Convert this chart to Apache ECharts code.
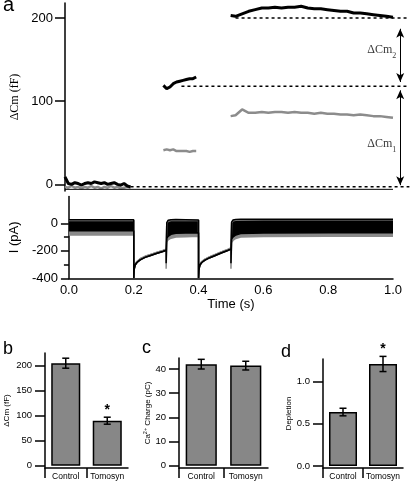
<!DOCTYPE html>
<html>
<head>
<meta charset="utf-8">
<script src="https://cdn.jsdelivr.net/npm/echarts@6/dist/echarts.min.js"></script>
<style>html,body{margin:0;padding:0;background:#fff}#c{width:410px;height:485px}</style>
</head>
<body>
<div id="c"></div>
<script>
// ---------- panel a : capacitance traces ----------
const cmTime1 = [0, 0.01, 0.02, 0.03, 0.04, 0.05, 0.06, 0.07, 0.08, 0.09, 0.10, 0.11, 0.12, 0.13, 0.14, 0.15, 0.16, 0.17, 0.18, 0.19, 0.20];
const cmBlack1 = [9, 1, 0, 2, 1, -1, 1, 2, 1, 3, 2, 1, 2, 0, 1, 2, 0, -1, 1, -2, -3];
const cmGray1 = [-3, -4, -2, -4, -3, -5, -3, -4, -2, -4, -3, -5, -3, -4, -2, -4, -3, -5, -4, -3, -4];
const cmTime2 = [0.300, 0.305, 0.310, 0.315, 0.320, 0.325, 0.330, 0.335, 0.340, 0.345, 0.350, 0.355, 0.360, 0.365, 0.370, 0.375, 0.380, 0.385, 0.390, 0.395, 0.400];
const cmBlack2 = [119, 117, 115, 115, 117, 119, 121, 122, 123, 124, 124, 125, 125, 126, 126, 127, 127, 128, 127, 128, 129];
const cmGray2 = [41, 40, 42, 40, 41, 40, 42, 41, 40, 41, 40, 42, 40, 41, 40, 41, 39, 41, 40, 41, 40];
const cmTime3 = [0.505, 0.52, 0.54, 0.56, 0.58, 0.60, 0.62, 0.64, 0.66, 0.68, 0.70, 0.72, 0.74, 0.76, 0.78, 0.80, 0.82, 0.84, 0.86, 0.88, 0.90, 0.92, 0.94, 0.96, 0.98, 1.00];
const cmBlack3 = [203, 202, 205, 208, 210, 212, 212, 213, 212, 213, 213, 214, 212, 211, 211, 210, 209, 208, 208, 206, 206, 205, 204, 203, 202, 201];
const cmGray3 = [82, 83, 90, 86, 86, 87, 86, 87, 87, 86, 87, 86, 86, 85, 86, 85, 85, 84, 84, 83, 84, 83, 82, 82, 81, 80];
const cmTicks = [0, 100, 200];
const refLevels = [-3, 118, 200];
const refStarts = [0.2, 0.355, 0.52];
const refEnd = 1.05;
const baseLine = -6;
const arrowT = 1.022;
const arrowSpans = [[187, 123], [113, -1]];
const dcmLabelValues = [161, 47];
const dcmSubs = ['2', '1'];

// ---------- panel a : current trace (envelopes) ----------
const curTime = [0, 0.2, 0.2, 0.201, 0.204, 0.21, 0.22, 0.235, 0.25, 0.27, 0.29, 0.3, 0.3, 0.302, 0.306, 0.315, 0.33, 0.36, 0.4, 0.4, 0.401, 0.404, 0.41, 0.42, 0.435, 0.45, 0.47, 0.49, 0.5, 0.5, 0.502, 0.506, 0.515, 0.53, 0.6, 0.8, 1.0];
const blackUp = [25, 25, -400, -340, -305, -285, -266, -248, -236, -220, -205, -196, -196, 5, 22, 26, 27, 26, 24, -400, -340, -305, -285, -268, -250, -236, -216, -198, -188, -188, 8, 24, 28, 29, 30, 30, 30];
const blackLow = [-55, -55, -400, -340, -305, -285, -266, -248, -236, -220, -205, -196, -290, -110, -95, -80, -72, -70, -68, -400, -340, -305, -285, -268, -250, -236, -216, -198, -188, -290, -115, -100, -85, -75, -70, -68, -68];
const grayUp = [20, 20, -400, -335, -298, -278, -258, -240, -228, -212, -198, -188, -188, 0, 15, 20, 22, 21, 20, -400, -335, -298, -278, -260, -242, -228, -208, -190, -180, -180, 3, 18, 22, 24, 25, 25, 25];
const grayLow = [-85, -85, -400, -335, -298, -278, -258, -240, -228, -212, -198, -188, -330, -135, -120, -108, -100, -97, -95, -400, -335, -298, -278, -260, -242, -228, -208, -190, -180, -330, -140, -125, -110, -100, -96, -94, -94];
const curMajorTicks = [-400, -200, 0];
const curMinorTicks = [-300, -100];

// ---------- panels b, c, d ----------
const barCats = ['Control', 'Tomosyn'];
const cmMean = [205, 90];
const cmErr = [10, 7];
const cmStars = [false, true];
const cmBarTicks = [0, 50, 100, 150, 200];
const chargeMean = [42.0, 41.4];
const chargeErr = [2.0, 1.8];
const chargeStars = [false, false];
const chargeTicks = [0, 10, 20, 30, 40];
const deplMean = [0.64, 1.21];
const deplErr = [0.045, 0.09];
const deplStars = [false, true];
const deplTicks = [0.0, 0.5, 1.0];

const SANS = '"Liberation Sans", Arial, Helvetica, sans-serif';
const SERIF = '"Liberation Serif", "Times New Roman", serif';
const BAR_GRAY = '#878787';

function pairs(t, v) { return t.map((x, i) => [x, v[i]]); }

function hiddenX(grid, min, max) {
  return { type: 'value', gridIndex: grid, min: min, max: max, show: false };
}

function bandSeries(up, low, color) {
  return {
    type: 'custom', xAxisIndex: 1, yAxisIndex: 1, data: [[0, 0]], silent: true,
    renderItem: function (params, api) {
      const pts = [];
      for (let i = 0; i < curTime.length; i++) pts.push(api.coord([curTime[i], up[i]]));
      for (let i = curTime.length - 1; i >= 0; i--) pts.push(api.coord([curTime[i], low[i]]));
      return { type: 'polygon', shape: { points: pts }, style: { fill: color } };
    }
  };
}
function envLine(v, color, w) {
  return {
    type: 'line', xAxisIndex: 1, yAxisIndex: 1, data: pairs(curTime, v), symbol: 'none',
    lineStyle: { color: color, width: w }, silent: true
  };
}
function cmLine(t, v, color, w) {
  return {
    type: 'line', xAxisIndex: 0, yAxisIndex: 0, data: pairs(t, v), symbol: 'none',
    lineStyle: { color: color, width: w }, silent: true
  };
}

function barPanel(grid, xCat, xHelp, yIdx, means, errs, stars) {
  return [
    {
      type: 'bar', xAxisIndex: xCat, yAxisIndex: yIdx, data: means, barWidth: '70%',
      itemStyle: { color: BAR_GRAY, borderColor: '#000', borderWidth: 1.5 }, silent: true
    },
    {
      type: 'custom', xAxisIndex: xCat, yAxisIndex: yIdx, silent: true, z: 5,
      data: means.map((m, i) => [i, m, errs[i]]),
      renderItem: function (params, api) {
        const i = api.value(0), m = api.value(1), e = api.value(2);
        const top = api.coord([i, m + e]);
        const bot = api.coord([i, m - e]);
        const hw = 3.5;
        const st = { stroke: '#000', lineWidth: 1.5 };
        const children = [
          { type: 'line', shape: { x1: top[0], y1: top[1], x2: bot[0], y2: bot[1] }, style: st },
          { type: 'line', shape: { x1: top[0] - hw, y1: top[1], x2: top[0] + hw, y2: top[1] }, style: st },
          { type: 'line', shape: { x1: bot[0] - hw, y1: bot[1], x2: bot[0] + hw, y2: bot[1] }, style: st }
        ];
        if (stars[params.dataIndex]) {
          children.push({
            type: 'text', x: top[0], y: top[1] - 7,
            style: { text: '*', fill: '#000', font: 'bold 14px ' + SANS, align: 'center', verticalAlign: 'middle' }
          });
        }
        return { type: 'group', children: children };
      }
    }
  ];
}

function catAxis(grid) {
  return {
    type: 'category', gridIndex: grid, data: barCats, position: 'bottom',
    axisLine: { onZero: false, lineStyle: { color: '#000', width: 1.5 } },
    axisTick: { show: false },
    axisLabel: { color: '#000', fontSize: 8.5, fontFamily: SANS, margin: 4, interval: 0 }
  };
}
function helperX(grid) {
  return {
    type: 'value', gridIndex: grid, min: 0, max: 2, position: 'bottom',
    axisLine: { show: false, onZero: false }, splitLine: { show: false },
    axisLabel: { show: false },
    axisTick: { show: true, length: 10, customValues: [0, 1], lineStyle: { color: '#000', width: 1.5 } }
  };
}
function barY(grid, min, max, ticks, name, gap, fmt) {
  return {
    type: 'value', gridIndex: grid, min: min, max: max, position: 'left',
    axisLine: { show: true, onZero: false, lineStyle: { color: '#000', width: 1.5 } },
    axisTick: { show: true, length: 10, customValues: ticks, lineStyle: { color: '#000', width: 1.5 } },
    axisLabel: { customValues: ticks, color: '#000', fontSize: 9.5, fontFamily: SANS, margin: 13, formatter: fmt },
    splitLine: { show: false },
    name: name, nameLocation: 'middle', nameGap: gap,
    nameTextStyle: {
      color: '#000', fontSize: 8, fontFamily: SANS,
      rich: { a: { fontSize: 8, fontFamily: SANS, color: '#000' }, s: { fontSize: 5.5, fontFamily: SANS, color: '#000', padding: [0, 0, 4, 0] } }
    }
  };
}

const chart = echarts.init(document.getElementById('c'), null, { renderer: 'canvas' });

const option = {
  animation: false,
  backgroundColor: '#fff',
  graphic: [
    { type: 'text', left: 3, top: -5, style: { text: 'a', font: '20px ' + SANS, fill: '#000' } },
    { type: 'text', left: 3, top: 340, style: { text: 'b', font: '18px ' + SANS, fill: '#000' } },
    { type: 'text', left: 142, top: 339, style: { text: 'c', font: '18px ' + SANS, fill: '#000' } },
    { type: 'text', left: 281, top: 343, style: { text: 'd', font: '18px ' + SANS, fill: '#000' } }
  ],
  grid: [
    { left: 65, top: 3, width: 344.4, height: 188 },
    { left: 65, top: 196.5, width: 328, height: 81.8 },
    { left: 45, top: 353, width: 83, height: 115 },
    { left: 179, top: 358, width: 89, height: 110 },
    { left: 323, top: 359, width: 80, height: 109 }
  ],
  xAxis: [
    hiddenX(0, 0, 1.05),
    {
      type: 'value', gridIndex: 1, min: 0, max: 1, interval: 0.2, position: 'bottom',
      axisLine: { onZero: false, lineStyle: { color: '#000', width: 1.5 } },
      axisTick: { show: false },
      splitLine: { show: false },
      axisLabel: { color: '#000', fontSize: 13, fontFamily: SANS, margin: 6, formatter: v => v.toFixed(1) },
      name: 'Time (s)', nameLocation: 'middle', nameGap: 20,
      nameTextStyle: { color: '#000', fontSize: 13, fontFamily: SANS }
    },
    catAxis(2), helperX(2),
    catAxis(3), helperX(3),
    catAxis(4), helperX(4)
  ],
  yAxis: [
    {
      type: 'value', gridIndex: 0, min: -8, max: 218, position: 'left',
      axisLine: { show: true, onZero: false, lineStyle: { color: '#000', width: 1.5 } },
      axisTick: { show: true, length: 10, customValues: cmTicks, lineStyle: { color: '#000', width: 1.5 } },
      axisLabel: { customValues: cmTicks, color: '#000', fontSize: 13, fontFamily: SANS, margin: 12 },
      splitLine: { show: false },
      name: 'ΔCm (fF)', nameLocation: 'middle', nameGap: 41,
      nameTextStyle: { color: '#000', fontSize: 12, fontFamily: SERIF }
    },
    {
      type: 'value', gridIndex: 1, min: -400, max: 195, position: 'left',
      axisLine: { show: true, onZero: false, lineStyle: { color: '#000', width: 1.5 } },
      axisTick: { show: true, length: 8, customValues: curMajorTicks, lineStyle: { color: '#000', width: 1.5 } },
      axisLabel: { customValues: curMajorTicks, color: '#000', fontSize: 13, fontFamily: SANS, margin: 11 },
      splitLine: { show: false },
      name: 'I (pA)', nameLocation: 'middle', nameGap: 44,
      nameTextStyle: { color: '#000', fontSize: 13, fontFamily: SANS }
    },
    {
      type: 'value', gridIndex: 1, min: -400, max: 195, position: 'left', offset: 0,
      axisLine: { show: false, onZero: false },
      axisTick: { show: true, length: 5, customValues: curMinorTicks, lineStyle: { color: '#000', width: 1.5 } },
      axisLabel: { show: false },
      splitLine: { show: false }
    },
    barY(2, -4.6, 225.4, cmBarTicks, 'ΔCm (fF)', 34),
    barY(3, -0.95, 44.55, chargeTicks, '{a|Ca}{s|2+}{a| Charge (pC)}', 26),
    barY(4, -0.0237, 1.269, deplTicks, 'Depletion', 17, v => v.toFixed(1))
  ],
  series: [
    // current panel
    bandSeries(grayUp, grayLow, '#8a8a8a'),
    envLine(grayUp, '#8a8a8a', 1.5),
    envLine(grayLow, '#8a8a8a', 1.5),
    bandSeries(blackUp, blackLow, '#000'),
    envLine(blackUp, '#000', 1.5),
    envLine(blackLow, '#000', 1.5),
    // capacitance traces
    cmLine(cmTime1, cmGray1, '#8c8c8c', 2.5),
    cmLine(cmTime2, cmGray2, '#8c8c8c', 2.5),
    cmLine(cmTime3, cmGray3, '#8c8c8c', 2.5),
    cmLine(cmTime1, cmBlack1, '#000', 3),
    cmLine(cmTime2, cmBlack2, '#000', 3),
    cmLine(cmTime3, cmBlack3, '#000', 3),
    // base solid line
    {
      type: 'line', xAxisIndex: 0, yAxisIndex: 0, symbol: 'none', silent: true,
      data: [[0, baseLine], [1.0, baseLine]], lineStyle: { color: '#000', width: 1 }
    },
    // dashed reference levels + arrows
    ...refLevels.map((lv, k) => ({
      type: 'line', xAxisIndex: 0, yAxisIndex: 0, symbol: 'none', silent: true,
      data: [[refStarts[k], lv], [refEnd, lv]],
      lineStyle: { color: '#000', width: 1.5, type: [3, 3] }
    })),
    {
      type: 'line', xAxisIndex: 0, yAxisIndex: 0, symbol: 'none', silent: true, data: [],
      markLine: {
        silent: true, symbol: ['arrow', 'arrow'], symbolSize: [6, 9],
        lineStyle: { color: '#000', width: 1, type: 'solid' }, label: { show: false },
        data: arrowSpans.map(s => [{ coord: [arrowT, s[0]] }, { coord: [arrowT, s[1]] }])
      }
    },
    {
      type: 'scatter', xAxisIndex: 0, yAxisIndex: 0, symbolSize: 0, silent: true,
      data: dcmLabelValues.map(v => [arrowT - 0.006, v]),
      label: {
        show: true, position: 'left', distance: 2,
        formatter: p => '{a|ΔCm}{s|' + dcmSubs[p.dataIndex] + '}',
        rich: {
          a: { fontFamily: SERIF, fontSize: 12, color: '#000', verticalAlign: 'top', lineHeight: 14 },
          s: { fontFamily: SERIF, fontSize: 8, color: '#000', verticalAlign: 'top', lineHeight: 8, padding: [8, 0, 0, 0] }
        }
      }
    },
    // bar panels
    ...barPanel(2, 2, 3, 3, cmMean, cmErr, cmStars),
    ...barPanel(3, 4, 5, 4, chargeMean, chargeErr, chargeStars),
    ...barPanel(4, 6, 7, 5, deplMean, deplErr, deplStars)
  ]
};
chart.setOption(option);
</script>
</body>
</html>
